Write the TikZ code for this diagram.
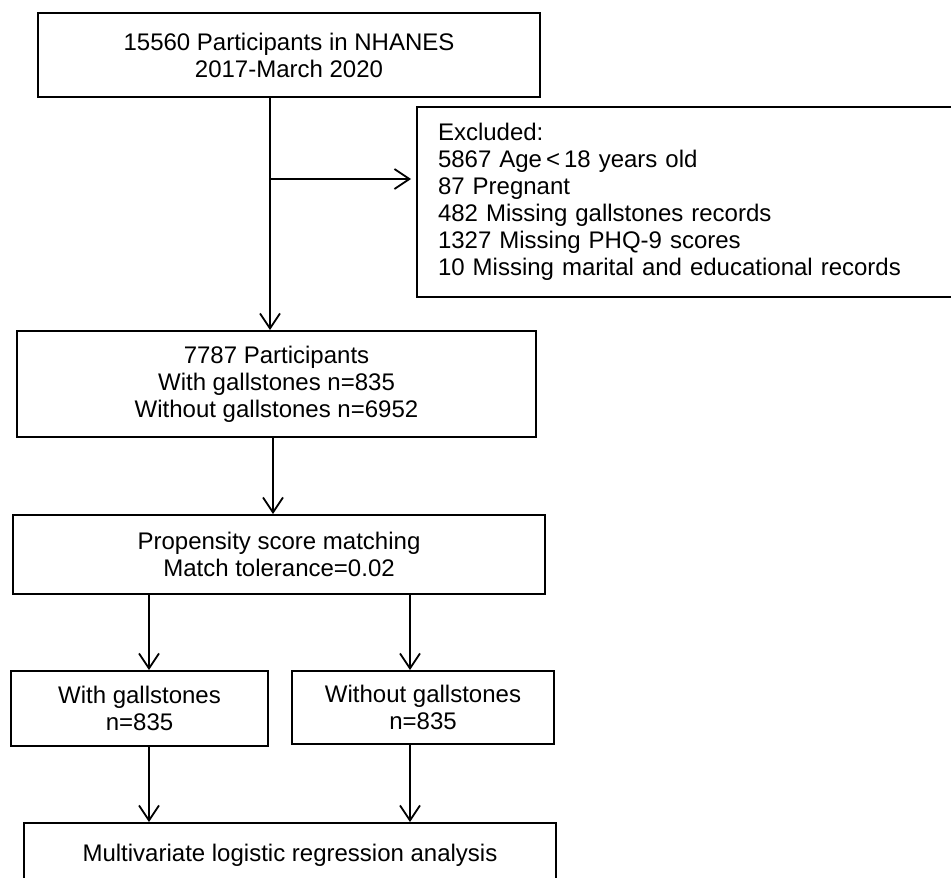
\documentclass[tikz,border=0pt]{standalone}
\usepackage{fontspec}
\setmainfont{Liberation Sans}
\usetikzlibrary{arrows.meta}

\begin{document}
\begin{tikzpicture}[x=1pt,y=-1pt,
  box/.style={draw,line width=1.8pt,inner sep=0pt,align=center,font=\fontsize{24}{27}\selectfont},
  arr/.style={-{Straight Barb[length=15pt,width=20pt]},line width=1.8pt}]
\clip (0,0) rectangle (951,878);
%boxes
\node[box,minimum width=502,minimum height=84] (start) at (289,55) {15560 Participants in NHANES\\2017-March 2020};
\node[box,align=left,text width=501,inner xsep=21pt,minimum height=190] (excl) at (688.5,202) {Excluded:\\5867 Age\,<\,18 years old\\87 Pregnant\\482 Missing gallstones records\\1327 Missing PHQ-9 scores\\10 Missing marital and educational records};
\node[box,minimum width=519,minimum height=106] (total) at (276.5,384) {7787 Participants\\With gallstones n=835\\Without gallstones n=6952};
\node[box,minimum width=532,minimum height=79] (psm) at (279,554.5) {Propensity score matching\\Match tolerance=0.02};
\node[box,minimum width=257,minimum height=75] (with) at (139.5,708.5) {With gallstones\\n=835};
\node[box,minimum width=262,minimum height=73] (without) at (423,707.5) {Without gallstones\\n=835};
\node[box,minimum width=532,minimum height=64] (logit) at (290,855) {Multivariate logistic regression analysis};
%arrows
\coordinate (split) at (270,179);
\coordinate (mid) at (273,0);
\coordinate (left) at (149,0);
\coordinate (right) at (410,0);
\draw[line width=1.8pt] (start.south -| split) -- (split);
\draw[arr] (split) -- (split |- total.north);
\draw[arr,shorten >=5pt] (split) -- (excl.west |- split);
\draw[arr] (total.south -| mid) -- (psm.north -| mid);
\draw[arr] (psm.south -| left) -- (with.north -| left);
\draw[arr] (psm.south -| right) -- (without.north -| right);
\draw[arr] (with.south -| left) -- (logit.north -| left);
\draw[arr] (without.south -| right) -- (logit.north -| right);
\end{tikzpicture}
\end{document}
